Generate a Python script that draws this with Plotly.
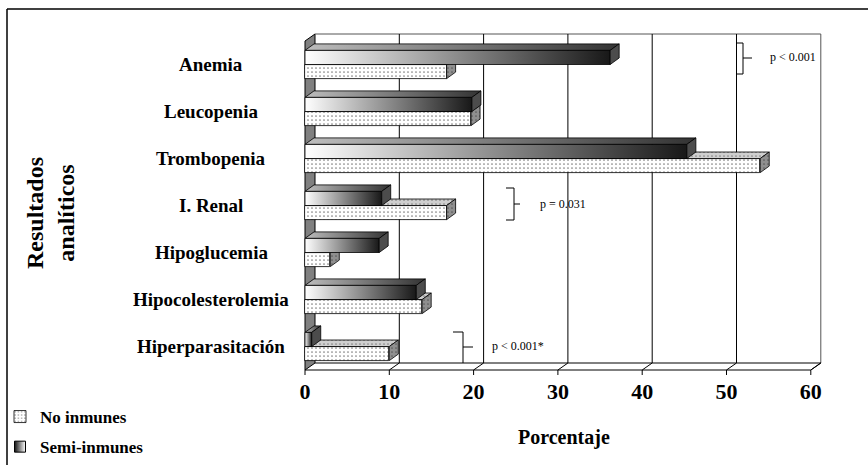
import plotly.graph_objects as go

# ---------------- data ----------------
categories = ["Anemia", "Leucopenia", "Trombopenia", "I. Renal",
              "Hipoglucemia", "Hipocolesterolemia", "Hiperparasitación"]
no_inmunes = [16.8, 19.7, 54.0, 16.8, 3.0, 13.9, 10.0]
semi_inmunes = [36.2, 19.8, 45.3, 9.1, 8.8, 13.2, 0.8]
x_ticks = [0, 10, 20, 30, 40, 50, 60]
series_names = ["No inmunes", "Semi-inmunes"]
p_labels = ["p < 0.001", "p = 0.031", "p < 0.001*"]

# ---------------- geometry ----------------
W, H = 868, 465
L, R, T, B = 298, 38, 26, 89
PW, PH = W - L - R, H - T - B
PXX = 8.43          # px per x unit
X0 = 305            # pixel of x = 0 (front plane)
PXY = 47            # px per category
YTOP = 41           # pixel of y = -0.5 (front plane)
xr = [(L - X0) / PXX, (W - R - X0) / PXX]
yr = [(H - B - YTOP) / PXY - 0.5, (T - YTOP) / PXY - 0.5]

DXW, DYW = 10 / PXX, 7 / PXY      # wall depth
DXB, DYB = 9 / PXX, 6.5 / PXY     # bar depth
BW = 0.3                          # bar thickness
NCAT = len(categories)
YB, YT = NCAT - 0.5, -0.5         # floor / top (front plane)
XMAX = x_ticks[-1]


def pxp(x):
    return (x - L) / PW


def pyp(y):
    return (H - B - y) / PH


fig = go.Figure()

# No inmunes front faces (bars)
fig.add_trace(go.Bar(
    x=no_inmunes, y=[i + BW / 2 for i in range(NCAT)], orientation="h",
    width=BW, name=series_names[0], legendgroup="a", legendrank=1,
    marker=dict(color="white", line=dict(color="black", width=0.8),
                pattern=dict(shape=".", fgcolor="black", bgcolor="white",
                             size=4, solidity=0.14)),
    hoverinfo="skip"))

face_line = dict(color="black", width=0.8)
for i in range(NCAT):
    v = no_inmunes[i]
    # No inmunes: top face
    fig.add_trace(go.Scatter(
        x=[0, DXB, v + DXB, v, 0], y=[i, i - DYB, i - DYB, i, i],
        fill="toself", mode="lines", line=face_line, fillcolor="#cfcfcf",
        fillpattern=dict(shape=".", fgcolor="#333", bgcolor="#cfcfcf", size=4, solidity=0.14),
        showlegend=False, hoverinfo="skip"))
    # No inmunes: side face
    fig.add_trace(go.Scatter(
        x=[v, v + DXB, v + DXB, v, v], y=[i, i - DYB, i + BW - DYB, i + BW, i],
        fill="toself", mode="lines", line=face_line, fillcolor="#8f8f8f",
        fillpattern=dict(shape=".", fgcolor="#222", bgcolor="#8f8f8f", size=4, solidity=0.14),
        showlegend=False, hoverinfo="skip"))
    s = semi_inmunes[i]
    # Semi: top face
    fig.add_trace(go.Scatter(
        x=[0, DXB, s + DXB, s, 0], y=[i - BW, i - BW - DYB, i - BW - DYB, i - BW, i - BW],
        fill="toself", mode="lines", line=face_line,
        fillgradient=dict(type="horizontal", colorscale=[[0, "#bdbdbd"], [1, "#333333"]]),
        showlegend=False, hoverinfo="skip"))
    # Semi: front face
    fig.add_trace(go.Scatter(
        x=[0, s, s, 0, 0], y=[i - BW, i - BW, i, i, i - BW],
        fill="toself", mode="lines", line=face_line,
        fillgradient=dict(type="horizontal", colorscale=[[0, "#ffffff"], [1, "#181818"]]),
        showlegend=False, hoverinfo="skip"))
    # Semi: side face
    fig.add_trace(go.Scatter(
        x=[s, s + DXB, s + DXB, s, s], y=[i - BW, i - BW - DYB, i - DYB, i, i - BW],
        fill="toself", mode="lines", line=face_line, fillcolor="#4c4c4c",
        showlegend=False, hoverinfo="skip"))

# legend entry for Semi-inmunes
fig.add_trace(go.Scatter(
    x=[None], y=[None], mode="markers", name=series_names[1], legendgroup="b", legendrank=2,
    marker=dict(symbol="square", size=11, color="#111111",
                gradient=dict(type="horizontal", color="white"),
                line=dict(color="black", width=1))))

shapes = []
# left wall
shapes.append(dict(type="path", xref="x", yref="y", layer="below",
                   path=f"M0,{YT} L{DXW},{YT - DYW} L{DXW},{YB - DYW} L0,{YB} Z",
                   fillcolor="#808080", line=dict(color="black", width=1)))
# back wall outline
shapes.append(dict(type="path", xref="x", yref="y", layer="below",
                   path=f"M{DXW},{YT - DYW} L{XMAX + DXW},{YT - DYW} L{XMAX + DXW},{YB - DYW}",
                   line=dict(color="#555", width=1)))
# floor
shapes.append(dict(type="path", xref="x", yref="y", layer="below",
                   path=f"M0,{YB} L{XMAX},{YB} L{XMAX + DXW},{YB - DYW} L{DXW},{YB - DYW}",
                   line=dict(color="black", width=1)))
for t in x_ticks[1:]:
    # gridline on back wall
    if t < XMAX:
        shapes.append(dict(type="line", xref="x", yref="y", layer="below",
                           x0=t + DXW, x1=t + DXW, y0=YT - DYW, y1=YB - DYW,
                           line=dict(color="black", width=1)))
    # floor diagonal
    shapes.append(dict(type="line", xref="x", yref="y", layer="below",
                       x0=t, x1=t + DXW, y0=YB, y1=YB - DYW,
                       line=dict(color="black", width=1)))
for t in x_ticks:
    shapes.append(dict(type="line", xref="x", yref="y", layer="below",
                       x0=t, x1=t, y0=YB, y1=YB + 5 / PXY,
                       line=dict(color="black", width=1)))

# outer frame (top and left edges)
shapes.append(dict(type="line", xref="paper", yref="paper", x0=pxp(7), x1=pxp(W + 5),
                   y0=pyp(9), y1=pyp(9), line=dict(color="black", width=1.5)))
shapes.append(dict(type="line", xref="paper", yref="paper", x0=pxp(7), x1=pxp(7),
                   y0=pyp(9), y1=pyp(H + 5), line=dict(color="black", width=1.5)))

# significance brackets
br = dict(color="black", width=1)
shapes.append(dict(type="path", xref="paper", yref="paper", line=br,
                   path=f"M{pxp(736)},{pyp(43)} L{pxp(743)},{pyp(43)} L{pxp(743)},{pyp(74)} L{pxp(736)},{pyp(74)} "
                        f"M{pxp(743)},{pyp(58)} L{pxp(752)},{pyp(58)}"))
shapes.append(dict(type="path", xref="paper", yref="paper", line=br,
                   path=f"M{pxp(506)},{pyp(188)} L{pxp(514)},{pyp(188)} L{pxp(514)},{pyp(220)} L{pxp(506)},{pyp(220)} "
                        f"M{pxp(514)},{pyp(204)} L{pxp(520)},{pyp(204)}"))
shapes.append(dict(type="path", xref="paper", yref="paper", line=br,
                   path=f"M{pxp(453)},{pyp(332)} L{pxp(463)},{pyp(332)} L{pxp(463)},{pyp(363)} "
                        f"M{pxp(463)},{pyp(347)} L{pxp(473)},{pyp(347)}"))

SERIF = "Liberation Serif"
annotations = []
for i, c in enumerate(categories):
    annotations.append(dict(x=pxp(211), y=i, xref="paper", yref="y", text=c, showarrow=False,
                            xanchor="center", yanchor="middle",
                            font=dict(family=SERIF, size=19, color="black", weight="bold")))
annotations.append(dict(x=pxp(50), y=pyp(213), xref="paper", yref="paper",
                        text="Resultados<br>analíticos", textangle=-90, showarrow=False,
                        xanchor="center", yanchor="middle",
                        font=dict(family=SERIF, size=24, color="black", weight="bold")))
annotations.append(dict(x=pxp(564), y=pyp(437), xref="paper", yref="paper",
                        text="Porcentaje", showarrow=False, xanchor="center", yanchor="middle",
                        font=dict(family=SERIF, size=20, color="black", weight="bold")))
for (px_, py_), txt in zip([(768, 57), (538, 204), (490, 346)], p_labels):
    annotations.append(dict(x=pxp(px_), y=pyp(py_), xref="paper", yref="paper", text=txt,
                            showarrow=False, xanchor="left", yanchor="middle",
                            font=dict(family=SERIF, size=12, color="black")))

fig.update_layout(
    width=W, height=H, autosize=False,
    margin=dict(l=L, r=R, t=T, b=B, pad=0),
    paper_bgcolor="white", plot_bgcolor="white",
    showlegend=True,
    legend=dict(x=0.0, y=1 - 399 / H, xref="container", yref="container",
                xanchor="left", yanchor="top", traceorder="grouped", tracegroupgap=5,
                font=dict(family=SERIF, size=17, color="black", weight="bold"),
                bgcolor="rgba(0,0,0,0)"),
    xaxis=dict(range=xr, tickvals=x_ticks, ticktext=[str(t) for t in x_ticks],
               showgrid=False, zeroline=False, showline=False, ticks="",
               tickfont=dict(family=SERIF, size=22, color="black", weight="bold"),
               fixedrange=True),
    yaxis=dict(range=yr, showgrid=False, zeroline=False, showline=False,
               showticklabels=False, ticks="", fixedrange=True),
    shapes=shapes, annotations=annotations,
    bargap=0,
)

fig.write_html("out.html")
